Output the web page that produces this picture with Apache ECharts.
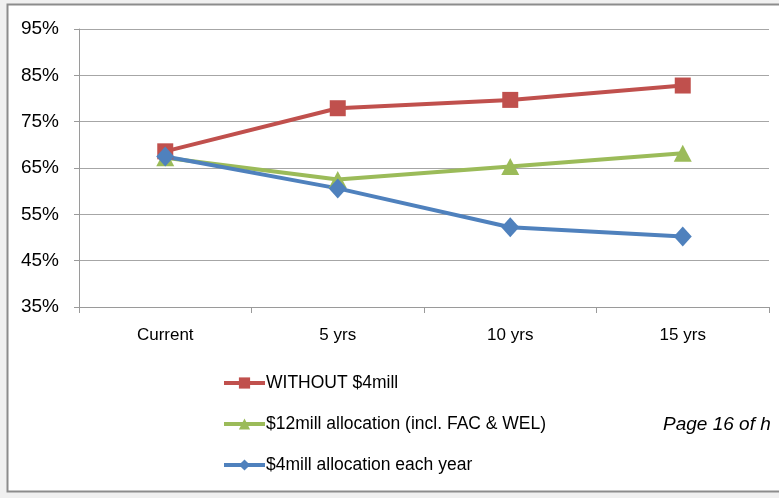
<!DOCTYPE html>
<html>
<head>
<meta charset="utf-8">
<script src="https://cdn.jsdelivr.net/npm/echarts@6/dist/echarts.min.js"></script>
<style>
html,body{margin:0;padding:0;background:#f0f0f0;}
#chart{width:779px;height:498px;}
</style>
</head>
<body>
<div id="chart"></div>
<script>
const categories = ['Current', '5 yrs', '10 yrs', '15 yrs'];
const withoutFour = [68.6, 77.9, 79.7, 82.8];
const twelveMill = [67.2, 62.5, 65.3, 68.2];
const fourMillEach = [67.5, 60.6, 52.2, 50.2];
const seriesNames = ['WITHOUT $4mill', '$12mill allocation (incl. FAC & WEL)', '$4mill allocation each year'];
const yMin = 35, yMax = 95, yStep = 10;

const FONT = "'Liberation Sans', Arial, sans-serif";
const chart = echarts.init(document.getElementById('chart'));
chart.setOption({
  animation: false,
  backgroundColor: '#f0f0f0',
  graphic: [
    { type: 'rect', z: -10, silent: true,
      shape: { x: 7.5, y: 4.5, width: 800, height: 487 },
      style: { fill: '#ffffff', stroke: '#8c8c8c', lineWidth: 2 } },
    { type: 'text', left: 663, top: 415, silent: true,
      style: { text: 'Page 16 of h', font: "italic 19px " + FONT, fill: '#000' } }
  ],
  grid: { left: 79, right: 10, top: 29, bottom: 191, containLabel: false },
  legend: {
    orient: 'vertical', left: 222, top: 374, itemGap: 23, padding: 0,
    itemWidth: 41, itemHeight: 14,
    lineStyle: { width: 4 },
    textStyle: { fontFamily: FONT, fontSize: 17.5, color: '#000', padding: [0, 0, 0, -4] },
    data: seriesNames
  },
  xAxis: {
    type: 'category', data: categories, boundaryGap: true,
    axisLine: { lineStyle: { color: '#9a9a9a', width: 1 } },
    axisTick: { show: true, alignWithLabel: false, length: 6, lineStyle: { color: '#9a9a9a' } },
    axisLabel: { fontFamily: FONT, fontSize: 17, color: '#000', margin: 20 }
  },
  yAxis: {
    type: 'value', min: yMin, max: yMax, interval: yStep,
    axisLine: { show: true, lineStyle: { color: '#9a9a9a' } },
    axisTick: { show: true, length: 5, lineStyle: { color: '#9a9a9a' } },
    splitLine: { lineStyle: { color: '#a6a6a6', width: 1 } },
    axisLabel: { fontFamily: FONT, fontSize: 19, color: '#000', margin: 20,
      formatter: v => v + '%' }
  },
  series: [
    { name: seriesNames[0], type: 'line', data: withoutFour,
      symbol: 'rect', symbolSize: 16, color: '#C0504D',
      lineStyle: { width: 4, color: '#C0504D' }, itemStyle: { color: '#C0504D' } },
    { name: seriesNames[1], type: 'line', data: twelveMill,
      symbol: 'triangle', symbolSize: [18, 17], color: '#9BBB59',
      lineStyle: { width: 4, color: '#9BBB59' }, itemStyle: { color: '#9BBB59' } },
    { name: seriesNames[2], type: 'line', data: fourMillEach,
      symbol: 'diamond', symbolSize: [18, 20], color: '#4F81BD',
      lineStyle: { width: 4, color: '#4F81BD' }, itemStyle: { color: '#4F81BD' } }
  ]
});
</script>
</body>
</html>
